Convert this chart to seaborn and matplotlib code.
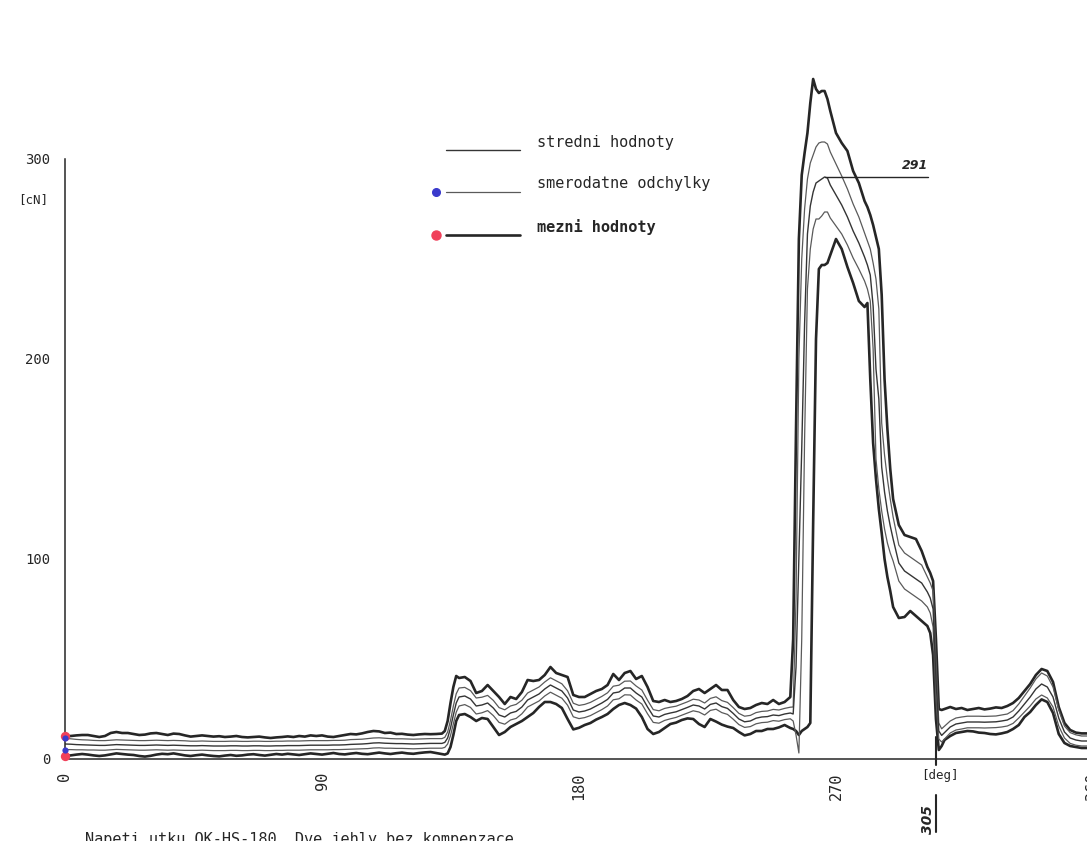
import numpy as np
import pandas as pd
import matplotlib
matplotlib.use("Agg")
import matplotlib.pyplot as plt
from matplotlib.lines import Line2D
import seaborn as sns

# ---- measured weft tension over one loom revolution ----
# crank angle [deg]
uhel = [
    0, 2, 4, 6, 8, 10, 12, 14, 16, 18, 20,
    22, 24, 26, 28, 30, 32, 34, 36, 38, 40, 42,
    44, 46, 48, 50, 52, 54, 56, 58, 60, 62, 64,
    66, 68, 70, 72, 74, 76, 78, 80, 82, 84, 86,
    88, 90, 92, 94, 96, 98, 100, 102, 104, 106, 108,
    110, 112, 114, 116, 118, 120, 122, 124, 126, 128, 130,
    132, 133, 134, 135, 136, 137, 138,
    140, 142, 144, 146, 148, 150, 152, 154, 156, 158,
    160, 162, 164, 166, 168, 170, 172, 174, 176, 178,
    180, 182, 184, 186, 188, 190, 192, 194, 196, 198,
    200, 202, 204, 206, 208, 210, 212, 214, 216, 218,
    220, 222, 224, 226, 228, 230, 232, 234, 236, 238,
    240, 242, 244, 246, 248, 250, 252, 254,
    255, 256, 257, 258, 259, 260, 261, 262, 263, 264, 265, 266, 267, 268,
    270, 272, 274, 276, 278, 280,
    281, 282, 283, 284, 285, 286, 287, 288, 289, 290,
    292, 294, 296, 298, 300, 302,
    303, 304, 305, 306, 307, 308,
    310, 312, 314, 316, 318, 320, 322, 324, 326, 328,
    330, 332, 334, 336, 338, 340, 342, 344, 346, 348,
    350, 352, 354, 356, 358, 360,
]

# mean tension [cN]
stredni = [
    7.5, 7.4, 7.2, 7.1, 7.0, 6.9, 6.8, 6.8, 7.0, 7.2, 7.1,
    7.0, 6.9, 6.8, 6.8, 6.9, 7.0, 6.9, 6.8, 6.9, 6.8, 6.7,
    6.6, 6.6, 6.7, 6.6, 6.5, 6.5, 6.5, 6.6, 6.6, 6.5, 6.5,
    6.6, 6.6, 6.5, 6.5, 6.6, 6.6, 6.7, 6.7, 6.7, 6.8, 6.9,
    6.9, 6.9, 6.9, 7.0, 7.0, 7.1, 7.3, 7.4, 7.5, 7.7, 8.0,
    8.1, 7.9, 7.8, 7.7, 7.7, 7.6, 7.5, 7.6, 7.7, 7.8, 7.8,
    7.8, 8.3, 10.5, 15.5, 22, 28, 31,
    31.5, 30, 26.5, 27, 28, 25.5, 22, 21, 23, 23.8,
    26, 29.5, 31, 32.5, 35, 37, 35.5, 34, 30.5, 24.5,
    23.5, 24, 25, 26.5, 28, 29.8, 33, 33.5, 35.5, 35.5,
    33, 31, 26, 21.5, 21, 22.3, 23, 23.6, 24.7, 25.8,
    27, 26.5, 25, 27.3, 28, 26.2, 25.3, 22.8, 20, 18.6,
    19, 20.4, 21, 21.2, 22, 21.7, 22.5, 23,
    22.5, 46, 101.5, 155, 217.5, 262.5, 276.5, 283.5, 288, 289, 290, 291, 290.5, 287,
    282, 277, 271, 264, 258, 251,
    247, 242, 226.5, 195, 180, 146, 133.5, 124, 116.5, 110,
    98, 94, 92, 90, 88, 83.5,
    80.5, 75, 40, 14, 11.8, 13.2,
    16, 17.5, 18, 18.5, 18.5, 18.5, 18.4, 18.5, 18.6, 19,
    19.5, 21, 24, 27.5, 31, 35, 37.5, 36, 31, 20.5,
    13.5, 10.5, 9.5, 9, 9, 9,
]

# standard deviation [cN]
odchylka = [
    2.8, 2.7, 2.6, 2.5, 2.5, 2.4, 2.4, 2.4, 2.4, 2.4, 2.4,
    2.4, 2.4, 2.4, 2.4, 2.4, 2.4, 2.4, 2.4, 2.4, 2.4, 2.4,
    2.3, 2.3, 2.3, 2.3, 2.3, 2.3, 2.3, 2.3, 2.3, 2.3, 2.3,
    2.3, 2.3, 2.3, 2.3, 2.3, 2.3, 2.3, 2.3, 2.3, 2.3, 2.3,
    2.3, 2.3, 2.3, 2.3, 2.3, 2.3, 2.4, 2.4, 2.4, 2.5, 2.5,
    2.5, 2.5, 2.4, 2.4, 2.4, 2.4, 2.4, 2.4, 2.4, 2.4, 2.4,
    2.4, 2.5, 3.0, 3.8, 4.5, 4.6, 4.5,
    4.3, 4.2, 4.0, 3.9, 3.8, 3.8, 3.7, 3.6, 3.5, 3.5,
    3.4, 3.5, 3.5, 3.5, 3.5, 3.6, 3.6, 3.6, 3.6, 3.4,
    3.3, 3.3, 3.3, 3.3, 3.3, 3.3, 3.4, 3.4, 3.4, 3.5,
    3.5, 3.5, 3.4, 3.2, 3.1, 3.0, 2.9, 2.8, 2.8, 2.8,
    2.9, 3.0, 3.0, 3.0, 3.1, 3.0, 3.0, 2.9, 2.8, 2.8,
    2.8, 2.8, 2.8, 2.8, 2.8, 2.8, 2.8, 2.9,
    3.5, 34, 98.5, 95, 57.5, 27.5, 21.5, 18.5, 18, 19, 18.5, 17.5, 17, 16.5,
    15.5, 14.5, 14, 13.5, 13, 12,
    12, 13, 21.5, 45, 45, 22, 18.5, 16, 13.5, 11,
    9, 9, 9, 9, 9, 7.5,
    7.5, 9, 10, 4, 3.3, 3.2,
    3, 3, 3, 2.9, 2.9, 2.9, 2.9, 2.9, 2.9, 3,
    3, 3.2, 3.5, 4, 4.5, 5, 5.5, 5.5, 5, 4,
    3, 2.7, 2.6, 2.5, 2.5, 2.5,
]

# upper limit [cN]
horni_mez = [
    11.5, 11.5, 11.8, 12, 12, 11.5, 11, 11.5, 13, 13.5, 13,
    13, 12.5, 12, 12.2, 12.8, 13, 12.5, 12, 12.7, 12.5, 11.8,
    11.2, 11.5, 11.8, 11.5, 11.2, 11.4, 11, 11.2, 11.5, 11, 10.8,
    11, 11.2, 10.8, 10.5, 10.8, 11, 11.3, 11, 11.5, 11.2, 11.8,
    11.5, 11.8, 11.2, 11, 11.5, 12, 12.5, 12.3, 12.8, 13.5, 14,
    13.8, 13, 13.2, 12.5, 12.6, 12.2, 12, 12.3, 12.5, 12.4, 12.5,
    12.7, 14, 19, 28, 36, 41.5, 40.5,
    41, 39, 33, 34, 37, 34, 31, 27.5, 31, 30,
    33.5, 39.5, 39, 39.5, 42, 46, 43, 42, 41, 32,
    31, 31, 32.5, 34, 35, 37, 42.5, 39.5, 43, 44,
    40, 41.5, 36, 29, 28.5, 29.5, 28.5, 29, 30, 31.5,
    34, 35, 33, 35, 37, 34.5, 34.5, 29.5, 26, 25,
    25.5, 27, 28, 27.5, 29.5, 27.5, 28.5, 31,
    60, 165, 260, 292, 303, 313, 328, 340, 335, 333, 334, 334, 330, 324,
    313, 308, 304, 294, 288, 279,
    276, 272, 267, 261, 255, 232, 190, 165, 145, 130,
    117, 112, 111, 110, 104, 96,
    93, 89, 60, 25, 24.5, 25,
    26, 25, 25.5, 24.5, 25, 25.5, 24.8, 25.2, 25.8, 25.5,
    26.5, 28, 30.5, 34, 37.5, 42, 45, 44, 38.5, 26,
    18, 14.5, 13.2, 12.8, 12.8, 12.8,
]

# lower limit [cN]
dolni_mez = [
    1.5, 1.8, 2.2, 2.5, 2.2, 1.8, 1.5, 1.8, 2.3, 2.8, 2.5,
    2.2, 2, 1.5, 1.2, 1.6, 2.2, 2.6, 2.4, 2.8, 2.3, 1.8,
    1.5, 1.9, 2.2, 1.8, 1.5, 1.3, 1.7, 2, 1.6, 1.8, 2.2,
    2.4, 2, 1.7, 2.1, 2.5, 2.2, 2.6, 2.3, 2, 2.4, 2.8,
    2.5, 2.2, 2.6, 3, 2.5, 2.3, 2.7, 3, 2.6, 2.4, 2.8,
    3.2, 2.8, 2.5, 2.9, 3.2, 2.8, 2.6, 3, 3.3, 3.5, 3,
    2.5, 2.2, 2.8, 6, 12, 19, 22,
    22.5, 21, 19, 20.5, 20, 16, 12, 13.5, 16, 17.5,
    19, 21, 23, 26, 28.5, 28.5, 27.5, 25.5, 20, 14.8,
    15.6, 17, 18, 19.7, 21, 22.5, 25, 27, 28, 27,
    25.2, 21, 15, 12.5, 13.5, 15.5, 17.5, 18.2, 19.5, 20.3,
    20, 17.5, 16, 20, 18.7, 17.2, 16.2, 15.5, 13.5, 11.8,
    12.5, 14, 14, 15, 15, 15.8, 17, 15.5,
    15, 14, 12, 14, 15, 16, 18, 118, 210, 245, 247, 247, 248, 252,
    260, 255, 246, 238, 229, 226,
    228, 190, 158, 140, 125, 113, 100, 91, 84, 76,
    70.5, 71, 74, 71.5, 69, 66.5,
    63, 52, 20, 4.5, 6.5, 9.5,
    11.5, 13, 13.5, 14, 13.8, 13.2, 13, 12.5, 12.3, 12.8,
    13.5, 15, 17, 21, 23.5, 27, 29.8, 28.5, 23, 12.5,
    8, 6.5, 6, 5.5, 5.5, 5.5,
]

y_ticks = [0, 50, 100, 150, 200, 250, 300]
y_labels = ["0", "", "100", "", "200", "", "300"]
x_ticks = [0, 45, 90, 135, 180, 225, 270, 315, 360]
x_labels = ["0", "", "90", "", "180", "", "270", "", "360"]
legend_labels = ["stredni hodnoty", "smerodatne odchylky", "mezni hodnoty"]
peak_deg, peak_value = 266, 291
mark_deg = 305
caption = "Napeti utku OK-HS-180. Dve jehly bez kompenzace."

n = len(uhel)
assert all(len(a) == n for a in (stredni, odchylka, horni_mez, dolni_mez))

m = np.array(stredni, dtype=float)
s = np.array(odchylka, dtype=float)
df = pd.DataFrame({
    "uhel": uhel,
    "stredni": m,
    "horni_odch": m + s,
    "dolni_odch": m - s,
    "horni_mez": horni_mez,
    "dolni_mez": dolni_mez,
})

sns.set_style("white")
plt.rcParams["font.family"] = ["DejaVu Sans Mono", "DejaVu Sans"]

INK = "#262626"
MEAN_C = "#353535"
SD_C = "#5a5a5a"
RED = "#f0405a"
BLUE = "#3a3acc"

W, H = 1087, 841
fig = plt.figure(figsize=(W / 100, H / 100), dpi=100)
fig.patch.set_facecolor("white")
# 0 deg at x=65 px, 2.856 px/deg ; 0 cN at y=759 px, 2 px/cN
ax = fig.add_axes([65 / W, 62 / H, 1028 / W, 740 / H])
ax.set_facecolor("none")

styles = [
    ("horni_mez", INK, 1.9),
    ("dolni_mez", INK, 1.9),
    ("horni_odch", SD_C, 0.9),
    ("dolni_odch", SD_C, 0.9),
    ("stredni", MEAN_C, 1.0),
]
for col, color, lw in styles:
    sns.lineplot(data=df, x="uhel", y=col, ax=ax, color=color,
                 linewidth=lw, estimator=None, legend=False)

ax.set_xlim(0, 360)
ax.set_ylim(-10, 360)
ax.set_xlabel("")
ax.set_ylabel("")

for side in ("top", "right"):
    ax.spines[side].set_visible(False)
ax.spines["bottom"].set_position(("data", 0))
ax.spines["left"].set_bounds(0, 300)
ax.spines["bottom"].set_bounds(0, 360)
for side in ("left", "bottom"):
    ax.spines[side].set_color(INK)
    ax.spines[side].set_linewidth(1.1)

ax.set_xticks(x_ticks)
ax.set_xticklabels(x_labels, rotation=90, fontsize=11)
ax.set_yticks(y_ticks)
ax.set_yticklabels(y_labels, fontsize=10)
ax.tick_params(direction="inout", length=9, width=1.0, colors=INK)
ax.tick_params(axis="x", pad=5)
ax.tick_params(axis="y", pad=6)

# units
fig.text(33 / W, 1 - 200 / H, "[cN]", ha="center", va="center", fontsize=9, color=INK)
fig.text(940 / W, 1 - 775 / H, "[deg]", ha="center", va="center", fontsize=9, color=INK)

# angle marker below the axis
ax.plot([mark_deg, mark_deg], [11, -3], color=INK, lw=1.5, clip_on=False)
ax.plot([mark_deg, mark_deg], [-18, -36.5], color=INK, lw=1.5, clip_on=False)
ax.text(mark_deg - 2.8, -30.5, str(mark_deg), rotation=90, ha="center", va="center",
        fontsize=10, fontweight="bold", fontstyle="italic", family="DejaVu Sans",
        color=INK, clip_on=False)

# peak value leader
ax.plot([peak_deg, 302.2], [peak_value, peak_value], color=INK, lw=1.0)
ax.text(302.2, peak_value + 2.5, str(peak_value), ha="right", va="bottom",
        fontsize=9, fontweight="bold", fontstyle="italic", family="DejaVu Sans",
        color=INK)

# coloured start marks on the limit and deviation curves
ax.scatter([0, 0], [horni_mez[0], dolni_mez[0]], s=45, color=RED, zorder=6,
           clip_on=False, linewidths=0)
ax.scatter([0, 0], [m[0] + s[0], m[0] - s[0]], s=20, color=BLUE, zorder=6,
           clip_on=False, linewidths=0)

# key
key_rows = [
    (150, MEAN_C, 1.0, None, "normal"),
    (192, SD_C, 0.9, BLUE, "normal"),
    (235, INK, 1.9, RED, "bold"),
]
for (yp, color, lw, dot, weight), label in zip(key_rows, legend_labels):
    fy = 1 - yp / H
    fig.add_artist(Line2D([446 / W, 520 / W], [fy, fy], transform=fig.transFigure,
                          color=color, lw=lw))
    fig.text(537 / W, 1 - (yp - 8) / H, label, ha="left", va="center",
             fontsize=11, fontweight=weight, color=INK)
    if dot is not None:
        fig.add_artist(Line2D([436 / W], [fy], transform=fig.transFigure,
                              marker="o", ms=6.5 if dot == RED else 5.5,
                              color=dot, lw=0))

fig.text(85 / W, 1 - 844 / H, caption, ha="left", va="baseline", fontsize=11, color=INK)

fig.savefig("out.png", dpi=100, facecolor="white")
